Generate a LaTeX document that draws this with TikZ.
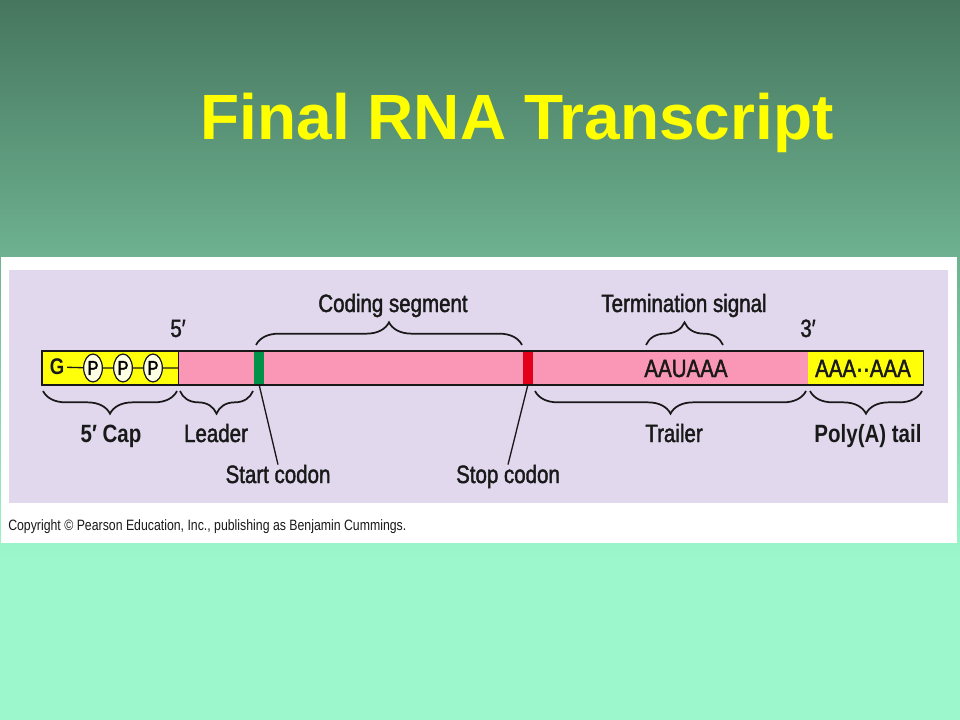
\documentclass[tikz,border=0pt]{standalone}
\usepackage{fontspec}
\setmainfont{Liberation Sans}
\newfontfamily\narrowsans[FakeStretch=0.82]{Liberation Sans}
\newfontfamily\mediumsans[FakeStretch=0.82, FakeBold=1.6]{Liberation Sans}
\usetikzlibrary{shapes.geometric, decorations.pathreplacing, positioning}

\definecolor{slidetop}{RGB}{70,118,94}
\definecolor{slidebottom}{RGB}{156,248,204}
\definecolor{titleyellow}{RGB}{255,255,0}
\definecolor{panelbg}{RGB}{225,216,238}
\definecolor{rnapink}{RGB}{250,150,182}
\definecolor{capyellow}{RGB}{255,255,10}
\definecolor{startgreen}{RGB}{0,145,72}
\definecolor{stopred}{RGB}{226,0,26}
\definecolor{phosfill}{RGB}{255,255,228}
\definecolor{ink}{RGB}{25,25,25}

\begin{document}
\begin{tikzpicture}[x=0.75pt, y=-0.75pt,
    lbl/.style={font=\mediumsans\fontsize{18.75}{22}\selectfont, text=ink, inner sep=0pt, anchor=base},
    boldlbl/.style={lbl, font=\narrowsans\bfseries\fontsize{18.75}{22}\selectfont},
    segment/.style={minimum height=25.5pt, inner sep=0pt, anchor=west},
    codon/.style={minimum width=7.5pt, minimum height=24pt, inner sep=0pt},
    phos/.style={ellipse, draw=ink, line width=0.9pt, fill=phosfill, minimum width=14pt,
        minimum height=21pt, inner sep=0pt, font=\mediumsans\fontsize{15}{16}\selectfont},
    brace/.style={decorate, decoration={brace, amplitude=17pt}, draw=ink, line width=1.3pt},
    pointer/.style={draw=ink, line width=1pt}
]
    % Slide background
    \useasboundingbox (0,0) rectangle (960,720);
    \shade[top color=slidetop, bottom color=slidebottom] (0,0) rectangle (960,560);
    \fill[slidebottom] (0,559) rectangle (960,720);

    \node[font=\bfseries\fontsize{48}{56}\selectfont, text=titleyellow, inner sep=0pt, anchor=base]
        (title) at (517,140) {Final RNA Transcript};

    % Figure panel
    \fill[white] (1,257) rectangle (957,543);
    \fill[panelbg] (9,270) rectangle (948,503);

    % mRNA bar
    \node[segment, fill=capyellow, minimum width=102pt] (cap) at (42,368) {};
    \node[segment, fill=rnapink, minimum width=472.5pt] (body) at (178,368) {};
    \node[segment, fill=capyellow, minimum width=86.25pt] (polya) at (808,368) {};
    \node[codon, fill=startgreen] (startcodon) at (259,368) {};
    \node[codon, fill=stopred] (stopcodon) at (528,368) {};
    \draw[ink, line width=1.3pt] (cap.north west) rectangle (polya.south east);
    \draw[ink, line width=1.3pt] (cap.north east) -- (cap.south east);

    % 5' cap: G-P-P-P
    \node[font=\narrowsans\bfseries\fontsize{17}{18}\selectfont, text=ink, inner sep=2pt] (guan) at (57,367) {G};
    \node[phos] (p1) at (93,368) {P};
    \node[phos] (p2) at (123,368) {P};
    \node[phos] (p3) at (153,368) {P};
    \draw[ink, line width=1pt] (guan) -- (p1) -- (p2) -- (p3) -- (cap.east);

    \node[lbl] (aauaaa) at (686,377) {AAUAAA};
    \node[lbl] (polyaseq) at (863,377) {AAA··AAA};

    % Ends
    \node[lbl] (five) at (178,337) {5′};
    \node[lbl] (three) at (808,337) {3′};

    % Braces above
    \draw[brace] (256,345) -- (522,345);
    \node[lbl] (coding) at (393,312) {Coding segment};
    \draw[brace] (646,345) -- (723,345);
    \node[lbl] (termsig) at (684,312) {Termination signal};

    % Braces below
    \draw[brace] (177,391) -- (43,391);
    \node[boldlbl] (caplbl) at (111,442) {5′ Cap};
    \draw[brace] (253,391) -- (180,391);
    \node[lbl] (leader) at (216,442) {Leader};
    \draw[brace] (806,391) -- (535,391);
    \node[lbl] (trailer) at (674,442) {Trailer};
    \draw[brace] (922,391) -- (810,391);
    \node[boldlbl] (tail) at (868,442) {Poly(A) tail};

    % Codon pointers
    \node[lbl] (startlbl) at (278,483) {Start codon};
    \node[lbl] (stoplbl) at (508,483) {Stop codon};
    \draw[pointer] (startcodon.south) -- (startlbl.north);
    \draw[pointer] (stopcodon.south) -- (stoplbl.north);

    \node[font=\narrowsans\fontsize{11.25}{13}\selectfont, text=ink, inner sep=0pt, anchor=base west]
        (copyright) at (8,530) {Copyright © Pearson Education, Inc., publishing as Benjamin Cummings.};
\end{tikzpicture}
\end{document}
